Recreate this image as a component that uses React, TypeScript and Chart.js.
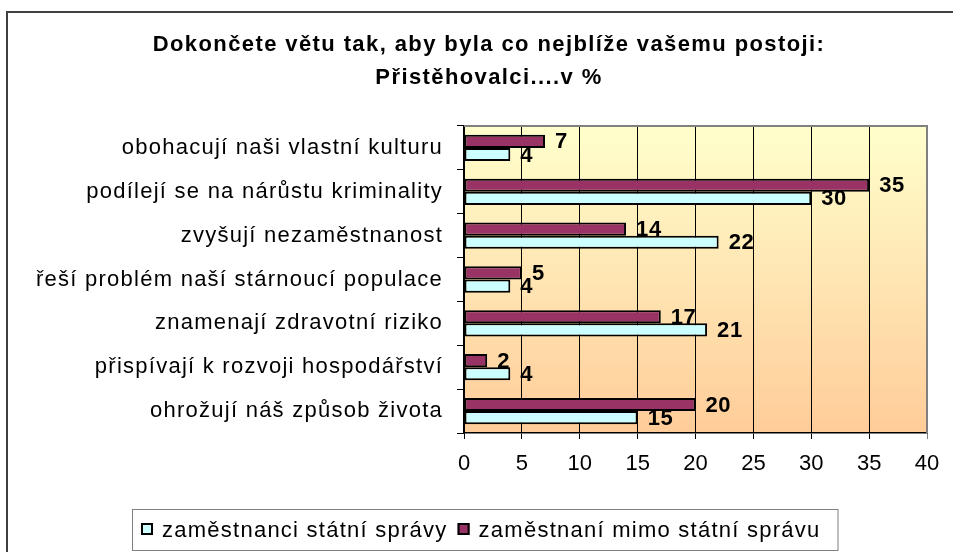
import React, { useEffect, useRef } from "react";
import { Chart, registerables } from "chart.js";

Chart.register(...registerables);

const titleLines = [
  "Dokončete větu tak, aby byla co nejblíže vašemu postoji:",
  "Přistěhovalci....v %",
];
const categories = [
  "obohacují naši vlastní kulturu",
  "podílejí se na nárůstu kriminality",
  "zvyšují nezaměstnanost",
  "řeší problém naší stárnoucí populace",
  "znamenají zdravotní riziko",
  "přispívají k rozvoji hospodářství",
  "ohrožují náš způsob života",
];
const seriesNames = ["zaměstnanci státní správy", "zaměstnaní mimo státní správu"];
const statniSprava = [4, 30, 22, 4, 21, 4, 15];
const mimoStatniSpravu = [7, 35, 14, 5, 17, 2, 20];
const xMin = 0;
const xMax = 40;
const xStep = 5;

const FONT = '"Liberation Sans", Arial, Helvetica, sans-serif';
const SP = "1.25px";
const CYAN = "#CCFFFF";
const MAROON = "#993366";

export default function App() {
  const ref = useRef<HTMLCanvasElement>(null);

  useEffect(() => {
    const canvas = ref.current!;

    const chrome = {
      id: "chrome",
      beforeUpdate(chart: any) {
        chart.ctx.letterSpacing = SP;
      },
      beforeLayout(chart: any) {
        chart.ctx.letterSpacing = SP;
      },
      afterLayout(chart: any) {
        const x = chart.scales.x;
        if (x && !x.__wrapped) {
          const orig = x.drawLabels.bind(x);
          x.drawLabels = (area: any) => {
            const c = chart.ctx;
            const prev = c.letterSpacing;
            c.letterSpacing = "0px";
            orig(area);
            c.letterSpacing = prev;
          };
          x.__wrapped = true;
        }
      },
      beforeDraw(chart: any) {
        const { ctx, chartArea: a, width, height } = chart;
        ctx.save();
        ctx.fillStyle = "#ffffff";
        ctx.fillRect(0, 0, width, height);
        const g = ctx.createLinearGradient(0, a.top, 0, a.bottom);
        g.addColorStop(0, "#FFFFCC");
        g.addColorStop(1, "#FFCC99");
        ctx.fillStyle = g;
        ctx.fillRect(a.left, a.top, a.right - a.left, a.bottom - a.top);
        ctx.restore();
        ctx.letterSpacing = SP;
      },
      afterDatasetsDraw(chart: any) {
        const { ctx } = chart;
        ctx.save();
        ctx.letterSpacing = "0.6px";
        ctx.font = `bold 22px ${FONT}`;
        ctx.fillStyle = "#000";
        ctx.textAlign = "left";
        ctx.textBaseline = "middle";
        chart.data.datasets.forEach((ds: any, di: number) => {
          const meta = chart.getDatasetMeta(di);
          meta.data.forEach((el: any, i: number) => {
            const p = el.getProps(["x", "y"], true);
            ctx.fillText(String(ds.data[i]), p.x + 10, p.y + 1);
          });
        });
        ctx.restore();
      },
      afterDraw(chart: any) {
        const { ctx, chartArea: a } = chart;
        ctx.save();
        // plot area top/right border
        ctx.strokeStyle = "#808080";
        ctx.lineWidth = 2;
        ctx.beginPath();
        ctx.moveTo(a.left, a.top);
        ctx.lineTo(a.right, a.top);
        ctx.lineTo(a.right, a.bottom);
        ctx.stroke();
        // outer border
        ctx.strokeStyle = "#404040";
        ctx.lineWidth = 2;
        ctx.strokeRect(7, 12, 990, 600);
        // title
        ctx.fillStyle = "#000";
        ctx.font = `bold 22px ${FONT}`;
        ctx.letterSpacing = "1.4px";
        ctx.textAlign = "center";
        ctx.textBaseline = "alphabetic";
        ctx.fillText(titleLines[0], 489, 51);
        ctx.fillText(titleLines[1], 489, 84);
        // legend
        ctx.font = `22px ${FONT}`;
        ctx.letterSpacing = SP;
        ctx.textAlign = "left";
        let x = 141;
        const order = [1, 0];
        order.forEach((idx) => {
          const ds = chart.data.datasets[idx];
          ctx.fillStyle = ds.backgroundColor;
          ctx.fillRect(x, 523, 12, 12);
          ctx.strokeStyle = "#000";
          ctx.lineWidth = 2;
          ctx.strokeRect(x + 1, 524, 10, 10);
          ctx.fillStyle = "#000";
          ctx.fillText(ds.label, x + 21, 537);
          x = x + 21 + ctx.measureText(ds.label).width + 10;
        });
        ctx.strokeStyle = "#808080";
        ctx.lineWidth = 1;
        ctx.strokeRect(132.5, 509.5, x + 7 - 132, 41);
        ctx.restore();
      },
    };

    const chart = new Chart(canvas, {
      type: "bar",
      data: {
        labels: categories,
        datasets: [
          {
            label: seriesNames[1],
            data: mimoStatniSpravu,
            backgroundColor: MAROON,
            borderColor: "#000",
            borderWidth: 2,
            borderSkipped: false,
            categoryPercentage: 0.6,
            barPercentage: 1,
          },
          {
            label: seriesNames[0],
            data: statniSprava,
            backgroundColor: CYAN,
            borderColor: "#000",
            borderWidth: 2,
            borderSkipped: false,
            categoryPercentage: 0.6,
            barPercentage: 1,
          },
        ],
      },
      options: {
        indexAxis: "y",
        responsive: false,
        maintainAspectRatio: false,
        animation: false,
        devicePixelRatio: 1,
        events: [],
        layout: { padding: { left: 0, top: 126, right: 26, bottom: 0 } },
        font: { family: FONT },
        plugins: {
          legend: { display: false },
          title: { display: false },
          tooltip: { enabled: false },
        },
        scales: {
          x: {
            type: "linear",
            min: xMin,
            max: xMax,
            ticks: {
              stepSize: xStep,
              color: "#000",
              font: { family: FONT, size: 22 },
              padding: 12,
            },
            grid: {
              color: (c: any) => (c.tick && c.tick.value === xMax ? "#808080" : "#000"),
              lineWidth: 1,
              tickLength: 6,
              drawOnChartArea: true,
            },
            border: { color: "#000", width: 1.5 },
            afterFit: (s: any) => {
              s.height = 552 - 433;
            },
          },
          y: {
            type: "category",
            offset: true,
            ticks: {
              color: "#000",
              font: { family: FONT, size: 22 },
              padding: 14,
            },
            grid: {
              offset: true,
              drawOnChartArea: false,
              color: "#000",
              tickLength: 7,
            },
            border: { color: "#000", width: 1.5 },
            afterFit: (s: any) => {
              s.width = 464;
            },
          },
        },
      } as any,
      plugins: [chrome],
    });

    return () => chart.destroy();
  }, []);

  return (
    <div style={{ position: "absolute", left: 0, top: 0, width: 953, height: 552 }}>
      <canvas ref={ref} width={953} height={552} style={{ display: "block" }} />
    </div>
  );
}
